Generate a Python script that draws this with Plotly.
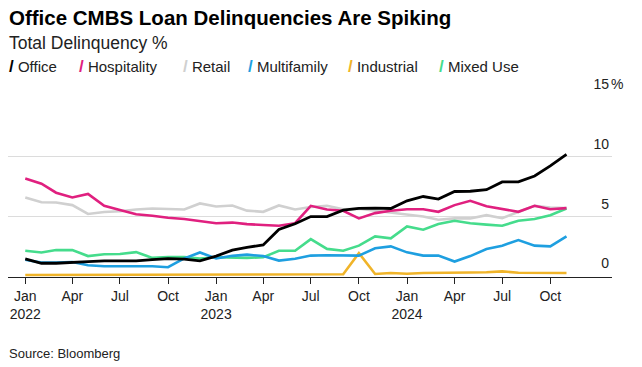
import plotly.graph_objects as go
import pandas as pd

months = pd.date_range("2022-01-01", "2024-11-01", freq="MS")

office = [1.46, 1.10, 1.10, 1.20, 1.24, 1.29, 1.29, 1.30, 1.40, 1.48, 1.45, 1.30,
          1.70, 2.20, 2.43, 2.63, 3.93, 4.40, 5.00, 5.00, 5.54, 5.68, 5.71, 5.68,
          6.32, 6.68, 6.46, 7.10, 7.12, 7.25, 7.90, 7.90, 8.40, 9.24, 10.20]
hospitality = [8.18, 7.75, 7.00, 6.60, 6.90, 5.90, 5.55, 5.20, 5.07, 4.90, 4.80, 4.64,
               4.45, 4.50, 4.37, 4.30, 4.24, 4.45, 5.90, 5.60, 5.49, 4.85, 5.29, 5.49,
               5.62, 5.62, 5.40, 5.96, 6.32, 5.86, 5.62, 5.40, 5.90, 5.62, 5.71]
retail = [6.60, 6.20, 6.18, 5.96, 5.22, 5.38, 5.45, 5.60, 5.68, 5.65, 5.60, 6.10,
          5.85, 5.93, 5.50, 5.40, 5.93, 5.60, 5.80, 5.90, 5.62, 5.65, 5.49, 5.29,
          5.12, 5.01, 4.74, 4.85, 4.85, 5.12, 4.87, 5.40, 5.90, 5.76, 5.71]
multifamily = [1.40, 1.15, 1.15, 1.20, 0.93, 0.85, 0.85, 0.85, 0.85, 0.77, 1.50, 2.00,
               1.50, 1.72, 1.82, 1.70, 1.32, 1.48, 1.74, 1.77, 1.77, 1.74, 2.35, 2.51,
               2.01, 1.74, 1.74, 1.24, 1.70, 2.29, 2.57, 3.04, 2.57, 2.51, 3.35]
industrial = [0.12, 0.12, 0.13, 0.13, 0.15, 0.15, 0.15, 0.15, 0.16, 0.16, 0.16, 0.16,
              0.17, 0.17, 0.17, 0.17, 0.17, 0.17, 0.18, 0.18, 0.18, 1.95, 0.20, 0.28,
              0.22, 0.28, 0.28, 0.30, 0.32, 0.35, 0.42, 0.30, 0.28, 0.28, 0.28]
mixed_use = [2.15, 2.00, 2.20, 2.20, 1.70, 1.85, 1.87, 2.03, 1.55, 1.62, 1.62, 1.50,
             1.60, 1.55, 1.55, 1.60, 2.15, 2.15, 3.12, 2.30, 2.15, 2.57, 3.35, 3.18,
             4.18, 3.90, 4.38, 4.65, 4.45, 4.33, 4.24, 4.65, 4.80, 5.12, 5.68]

series_names = ["Office", "Hospitality", "Retail", "Multifamily", "Industrial", "Mixed Use"]
series_colors = ["#000000", "#e0207f", "#d0d0d0", "#1e9fe0", "#f0b429", "#45dc8c"]
series_values = [office, hospitality, retail, multifamily, industrial, mixed_use]

tick_dates = ["2022-01-01", "2022-04-01", "2022-07-01", "2022-10-01",
              "2023-01-01", "2023-04-01", "2023-07-01", "2023-10-01",
              "2024-01-01", "2024-04-01", "2024-07-01", "2024-10-01"]
tick_labels = ["Jan<br>2022", "Apr", "Jul", "Oct", "Jan<br>2023", "Apr", "Jul", "Oct",
               "Jan<br>2024", "Apr", "Jul", "Oct"]
y_ticks = [0, 5, 10, 15]
y_tick_labels = ["0", "5", "10", "15"]

FONT = "Liberation Sans, Arial, sans-serif"

fig = go.Figure()
draw_order = [2, 4, 5, 3, 1, 0]
for i in draw_order:
    fig.add_trace(go.Scatter(
        x=months, y=series_values[i], name=series_names[i], mode="lines",
        line=dict(color=series_colors[i], width=2.8 if i == 0 else 2.6),
        showlegend=False, hoverinfo="skip"))

plot_left, plot_right = 8, 612
plot_top, plot_bottom = 97, 277

fig.update_layout(
    width=642, height=367,
    margin=dict(l=plot_left, r=642 - plot_right, t=plot_top, b=367 - plot_bottom),
    paper_bgcolor="white", plot_bgcolor="white",
    font=dict(family=FONT, color="#222", size=14),
    showlegend=False,
    xaxis=dict(
        type="date", range=["2021-11-29", "2025-01-27"],
        tickvals=tick_dates, ticktext=tick_labels,
        ticks="outside", ticklen=6, tickcolor="#222", tickwidth=1,
        showline=True, linecolor="#222", linewidth=1,
        showgrid=False, zeroline=False, automargin=False,
        tickfont=dict(size=14, color="#222"),
    ),
    yaxis=dict(
        range=[-0.05, 15], side="right",
        tickvals=y_ticks, ticktext=y_tick_labels,
        ticklabelposition="inside", ticklabelshift=-13, ticklabeloverflow="allow",
        showgrid=True, gridcolor="#dcdcdc", gridwidth=1,
        zeroline=False, showline=False, ticks="", automargin=False,
        tickfont=dict(size=14, color="#222"),
    ),
)

texts = [
    ("<b>Office CMBS Loan Delinquencies Are Spiking</b>", 8, 17, 20.5, "#000"),
    ("Total Delinquency %", 8, 43, 17.5, "#222"),
    ("Source: Bloomberg", 8, 353, 13, "#222"),
]
legend_x = [8, 78, 182, 247, 347, 438]
for name, color, lx in zip(series_names, series_colors, legend_x):
    texts.append((f"<span style='color:{color};font-size:17px'><b>/</b></span> {name}",
                  lx, 67, 15, "#222"))

anns = []
for text, px, py, size, color in texts:
    anns.append(dict(
        xref="paper", yref="paper",
        x=(px - plot_left) / (plot_right - plot_left),
        y=(plot_bottom - py) / (plot_bottom - plot_top),
        text=text, showarrow=False, font=dict(size=size, color=color, family=FONT),
        xanchor="left", yanchor="middle", borderpad=0))
anns.append(dict(xref="paper", yref="y", x=1, y=15, yshift=13,
                 text="%", showarrow=False, font=dict(size=14, color="#222", family=FONT),
                 xanchor="left", yanchor="middle", xshift=-2, borderpad=0))
fig.layout.annotations = anns

fig.write_html("out.html", config={"displayModeBar": False},
               post_script="document.body.style.margin='0';document.body.style.overflow='hidden';")
